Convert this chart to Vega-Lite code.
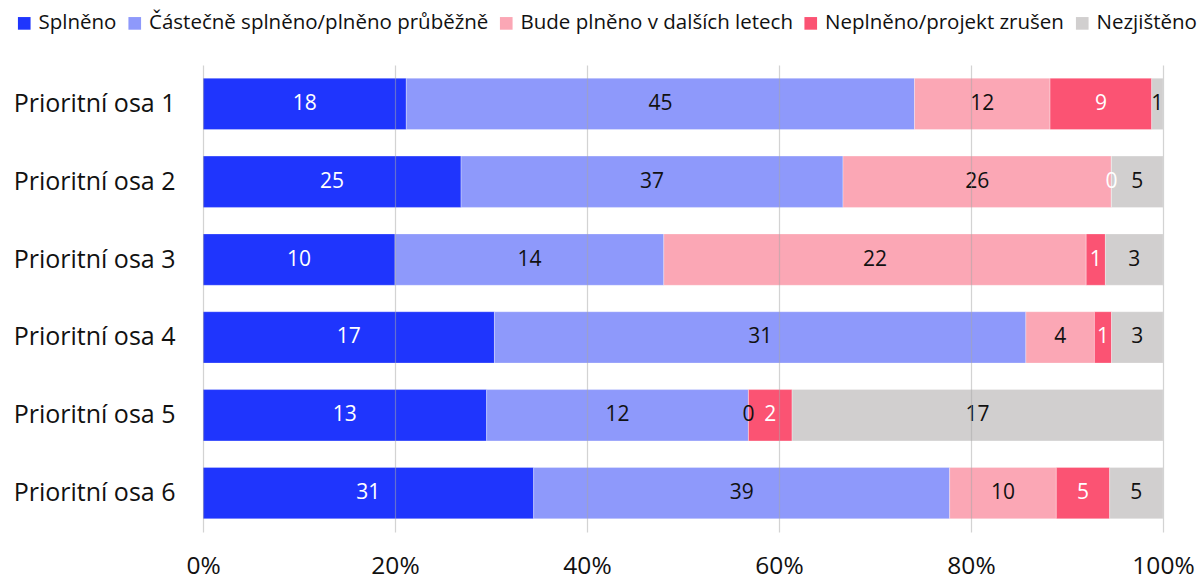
{
  "$schema": "https://vega.github.io/schema/vega-lite/v6.json",
  "autosize": {"type": "none"},
  "padding": {"left": 203, "top": 65, "right": 37, "bottom": 49},
  "width": 960,
  "height": 467,
  "background": "white",
  "config": {
    "font": "Open Sans",
    "view": {"stroke": null}
  },
  "data": {
    "values": [
      {"osa": "Prioritní osa 1", "kat": "Splněno", "poradi": 1, "pocet": 18},
      {"osa": "Prioritní osa 1", "kat": "Částečně splněno/plněno průběžně", "poradi": 2, "pocet": 45},
      {"osa": "Prioritní osa 1", "kat": "Bude plněno v dalších letech", "poradi": 3, "pocet": 12},
      {"osa": "Prioritní osa 1", "kat": "Neplněno/projekt zrušen", "poradi": 4, "pocet": 9},
      {"osa": "Prioritní osa 1", "kat": "Nezjištěno", "poradi": 5, "pocet": 1},
      {"osa": "Prioritní osa 2", "kat": "Splněno", "poradi": 1, "pocet": 25},
      {"osa": "Prioritní osa 2", "kat": "Částečně splněno/plněno průběžně", "poradi": 2, "pocet": 37},
      {"osa": "Prioritní osa 2", "kat": "Bude plněno v dalších letech", "poradi": 3, "pocet": 26},
      {"osa": "Prioritní osa 2", "kat": "Neplněno/projekt zrušen", "poradi": 4, "pocet": 0},
      {"osa": "Prioritní osa 2", "kat": "Nezjištěno", "poradi": 5, "pocet": 5},
      {"osa": "Prioritní osa 3", "kat": "Splněno", "poradi": 1, "pocet": 10},
      {"osa": "Prioritní osa 3", "kat": "Částečně splněno/plněno průběžně", "poradi": 2, "pocet": 14},
      {"osa": "Prioritní osa 3", "kat": "Bude plněno v dalších letech", "poradi": 3, "pocet": 22},
      {"osa": "Prioritní osa 3", "kat": "Neplněno/projekt zrušen", "poradi": 4, "pocet": 1},
      {"osa": "Prioritní osa 3", "kat": "Nezjištěno", "poradi": 5, "pocet": 3},
      {"osa": "Prioritní osa 4", "kat": "Splněno", "poradi": 1, "pocet": 17},
      {"osa": "Prioritní osa 4", "kat": "Částečně splněno/plněno průběžně", "poradi": 2, "pocet": 31},
      {"osa": "Prioritní osa 4", "kat": "Bude plněno v dalších letech", "poradi": 3, "pocet": 4},
      {"osa": "Prioritní osa 4", "kat": "Neplněno/projekt zrušen", "poradi": 4, "pocet": 1},
      {"osa": "Prioritní osa 4", "kat": "Nezjištěno", "poradi": 5, "pocet": 3},
      {"osa": "Prioritní osa 5", "kat": "Splněno", "poradi": 1, "pocet": 13},
      {"osa": "Prioritní osa 5", "kat": "Částečně splněno/plněno průběžně", "poradi": 2, "pocet": 12},
      {"osa": "Prioritní osa 5", "kat": "Bude plněno v dalších letech", "poradi": 3, "pocet": 0},
      {"osa": "Prioritní osa 5", "kat": "Neplněno/projekt zrušen", "poradi": 4, "pocet": 2},
      {"osa": "Prioritní osa 5", "kat": "Nezjištěno", "poradi": 5, "pocet": 17},
      {"osa": "Prioritní osa 6", "kat": "Splněno", "poradi": 1, "pocet": 31},
      {"osa": "Prioritní osa 6", "kat": "Částečně splněno/plněno průběžně", "poradi": 2, "pocet": 39},
      {"osa": "Prioritní osa 6", "kat": "Bude plněno v dalších letech", "poradi": 3, "pocet": 10},
      {"osa": "Prioritní osa 6", "kat": "Neplněno/projekt zrušen", "poradi": 4, "pocet": 5},
      {"osa": "Prioritní osa 6", "kat": "Nezjištěno", "poradi": 5, "pocet": 5}
    ]
  },
  "encoding": {
    "y": {
      "field": "osa", "type": "nominal", "sort": null,
      "scale": {"paddingInner": 0.34, "paddingOuter": 0.17},
      "axis": {
        "title": null, "domain": false, "ticks": false,
        "labelFontSize": 25, "labelColor": "#111111", "labelPadding": 28,
        "labelFont": "Open Sans", "labelLimit": 0
      }
    }
  },
  "layer": [
    {
      "mark": {"type": "bar", "stroke": "white", "strokeWidth": 0.6, "strokeOpacity": 0.5},
      "encoding": {
        "x": {
          "field": "pocet", "type": "quantitative", "aggregate": "sum", "stack": "normalize",
          "scale": {"domain": [0, 1]},
          "axis": {
            "title": null, "format": "%", "values": [0, 0.2, 0.4, 0.6, 0.8, 1],
            "domain": false, "ticks": false, "grid": true, "labelFlush": false,
            "gridColor": "#a8a8a8", "gridOpacity": 0.5, "gridWidth": 1.2,
            "labelFontSize": 24.5, "labelColor": "#111111", "labelPadding": 22,
            "labelFont": "Open Sans", "zindex": 1
          }
        },
        "color": {
          "field": "kat", "type": "nominal",
          "scale": {
            "domain": ["Splněno", "Částečně splněno/plněno průběžně", "Bude plněno v dalších letech", "Neplněno/projekt zrušen", "Nezjištěno"],
            "range": ["#1f35fd", "#8e99fb", "#fba7b5", "#fb5373", "#d1cfcf"]
          },
          "legend": {
            "title": null, "orient": "none", "direction": "horizontal",
            "legendX": -189, "legendY": -52,
            "symbolType": "square", "symbolSize": 160, "symbolStrokeWidth": 0,
            "labelFontSize": 20.5, "labelColor": "#111111", "labelFont": "Open Sans",
            "labelOffset": 4, "columnPadding": 7.5, "symbolOffset": 0, "labelLimit": 0
          }
        },
        "order": {"field": "poradi", "type": "quantitative"}
      }
    },
    {
      "mark": {"type": "text", "fontSize": 21, "baseline": "middle", "align": "center", "font": "Open Sans"},
      "encoding": {
        "x": {
          "field": "pocet", "type": "quantitative", "aggregate": "sum", "stack": "normalize", "bandPosition": 0.5
        },
        "text": {"field": "pocet", "type": "quantitative", "aggregate": "sum"},
        "detail": {"field": "kat", "type": "nominal"},
        "order": {"field": "poradi", "type": "quantitative"},
        "color": {
          "condition": {"test": "datum.kat === 'Splněno' || datum.kat === 'Neplněno/projekt zrušen'", "value": "white"},
          "value": "#111111"
        }
      }
    }
  ]
}
